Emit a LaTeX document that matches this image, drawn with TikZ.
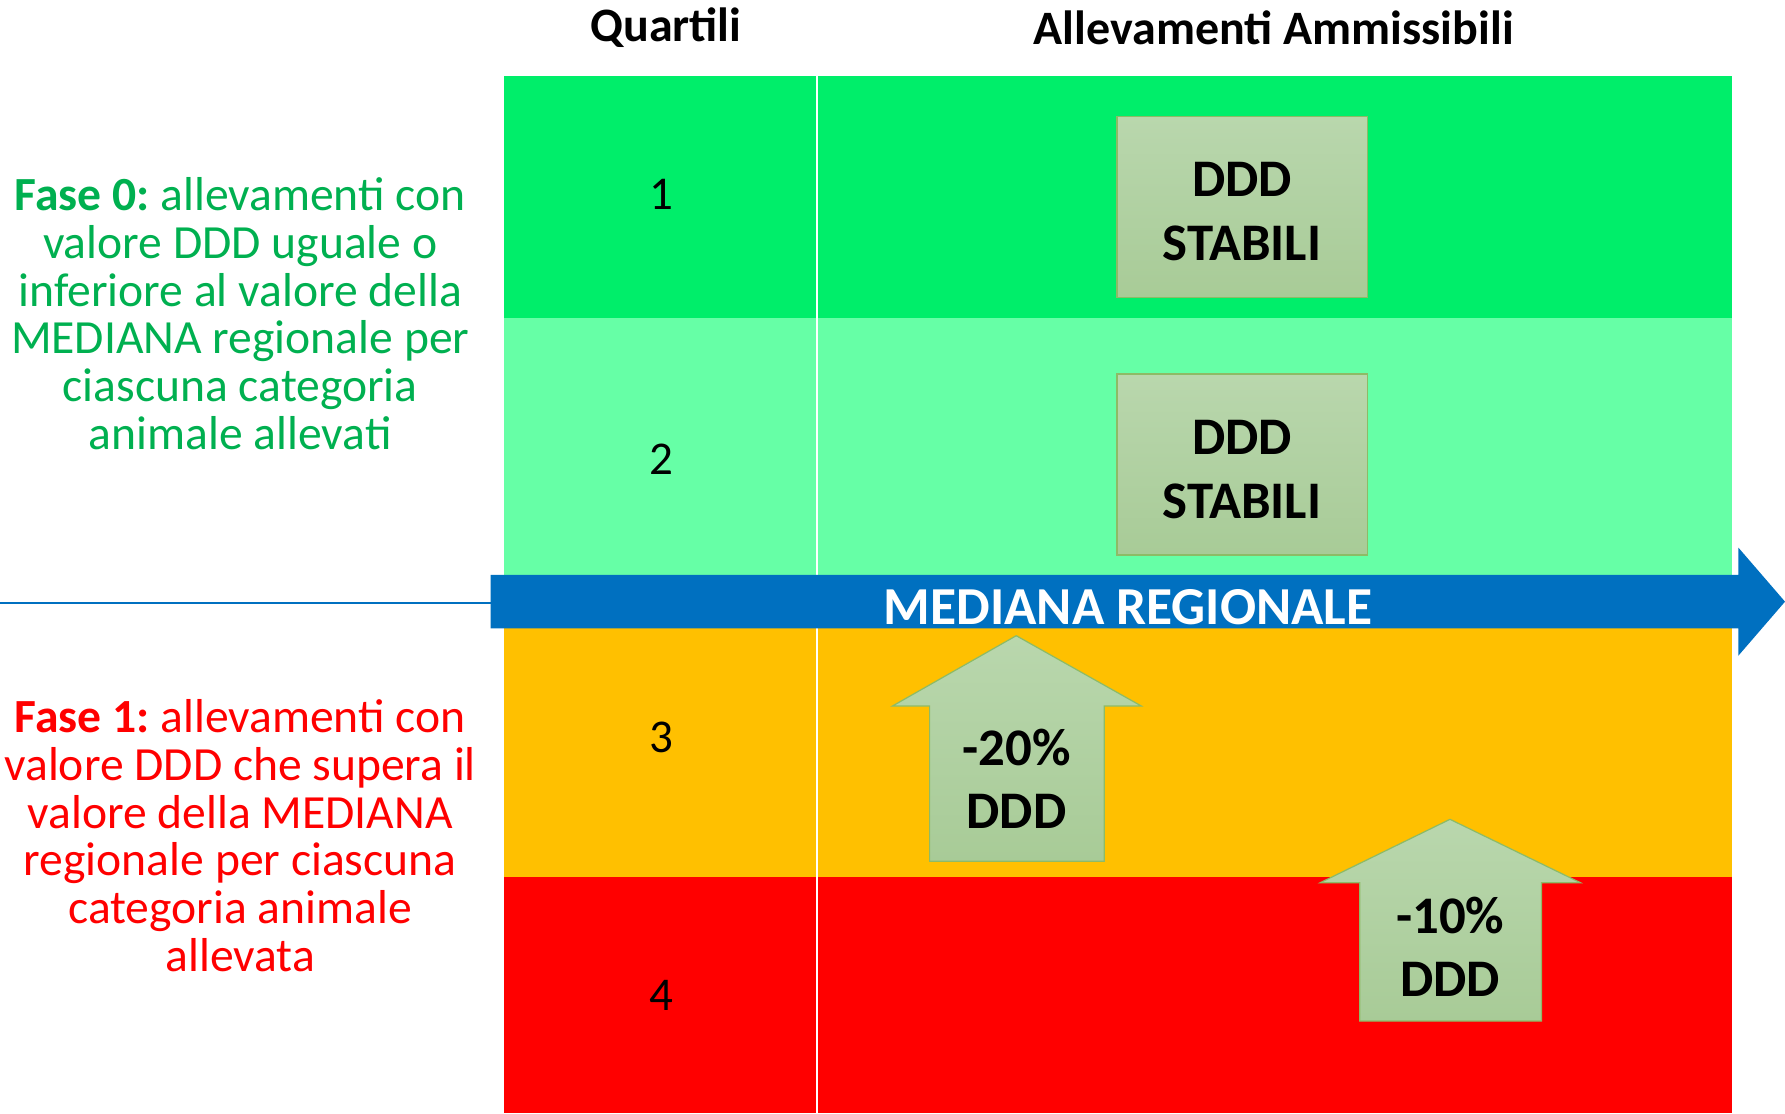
\documentclass[tikz,border=0pt]{standalone}
\usepackage{fontspec}
\setmainfont{Carlito}
\frenchspacing
\definecolor{qone}{HTML}{00EE6A}
\definecolor{qtwo}{HTML}{66FFA6}
\definecolor{qthree}{HTML}{FFC000}
\definecolor{qfour}{HTML}{FF0000}
\definecolor{medblue}{HTML}{0070C0}
\definecolor{boxtop}{HTML}{B9D7AD}
\definecolor{boxbot}{HTML}{A8CB97}
\definecolor{boxedge}{HTML}{8DBB66}
\definecolor{fgreen}{HTML}{00B050}
\definecolor{fred}{HTML}{FF0000}
\begin{document}
\begin{tikzpicture}[x=0.5692pt,y=-0.5692pt,
  num/.style={font=\fontsize{23.5}{26}\selectfont, inner sep=0pt},
  head/.style={font=\bfseries\fontsize{24}{28}\selectfont, inner sep=0pt},
  side/.style={align=center, inner sep=0pt, font=\frenchspacing\fontsize{23.8}{23.9}\selectfont},
  big/.style={align=center, inner sep=0pt, font=\bfseries\fontsize{26.4}{31.8}\selectfont},
  stab/.style={draw=boxedge, line width=0.6pt, top color=boxtop, bottom color=boxbot, minimum width=125.1pt, minimum height=90.5pt, inner sep=0pt},
  uparr/.style={draw=boxedge, line width=0.6pt, top color=boxtop, bottom color=boxbot}]
\useasboundingbox (0,0) rectangle (1568,978);
\fill[white] (0,0) rectangle (1568,978);
% quartile rows
\fill[qone] (443,67) rectangle (1521,279);
\fill[qtwo] (443,279) rectangle (1521,529);
\fill[qthree] (443,529) rectangle (1521,770);
\fill[qfour] (443,770) rectangle (1521,978);
\draw[white, line width=0.9pt] (718,67) -- (718,978);
% headers
\node[head] (hq) at (585,24) {Quartili};
\node[head] (ha) at (1119,24) {Allevamenti Ammissibili};
% quartile numbers
\node[num] (n1) at (581,171) {1};
\node[num] (n2) at (581,403) {2};
\node[num] (n3) at (581,648) {3};
\node[num] (n4) at (581,874) {4};
% stable boxes
\node[stab] (s1) at (1091,181.5) {};
\node[big] (t1) at (1091,186) {DDD\\STABILI};
\node[stab] (s2) at (1091,408) {};
\node[big] (t2) at (1091,412.5) {DDD\\STABILI};
% median arrow
\coordinate (lstart) at (0,530);
\coordinate (ltail) at (431,530);
\draw[medblue, line width=1.1pt] (lstart) -- (ltail);
\fill[medblue] (431,505) -- (1527,505) -- (1527,481) -- (1568,528.5) -- (1527,576) -- (1527,552) -- (431,552) -- cycle;
\node[font=\bfseries\fontsize{26.7}{30}\selectfont, text=white, inner sep=0pt] (med) at (991,533) {MEDIANA REGIONALE};
% up arrows
\shadedraw[uparr] (892.7,558.4) -- (1002.6,620.2) -- (970,620.2) -- (970,756.6) -- (816.6,756.6) -- (816.6,620.2) -- (783.9,620.2) -- cycle;
\node[big] (a20) at (893,684) {-20\%\\DDD};
\shadedraw[uparr] (1273.7,719.7) -- (1388.3,775.4) -- (1354,775.4) -- (1354,896.9) -- (1194.4,896.9) -- (1194.4,775.4) -- (1159.7,775.4) -- cycle;
\node[big] (a10) at (1274,831.6) {-10\%\\DDD};
% side texts
\node[side, text=fgreen] (f0) at (211,275.5) {\textbf{Fase 0:} allevamenti con\\valore DDD uguale o\\inferiore al valore della\\MEDIANA regionale per\\ciascuna categoria\\animale allevati};
\node[side, text=fred] (f1) at (211,734) {\textbf{Fase 1:} allevamenti con\\valore DDD che supera il\\valore della MEDIANA\\regionale per ciascuna\\categoria animale\\allevata};
\end{tikzpicture}
\end{document}
